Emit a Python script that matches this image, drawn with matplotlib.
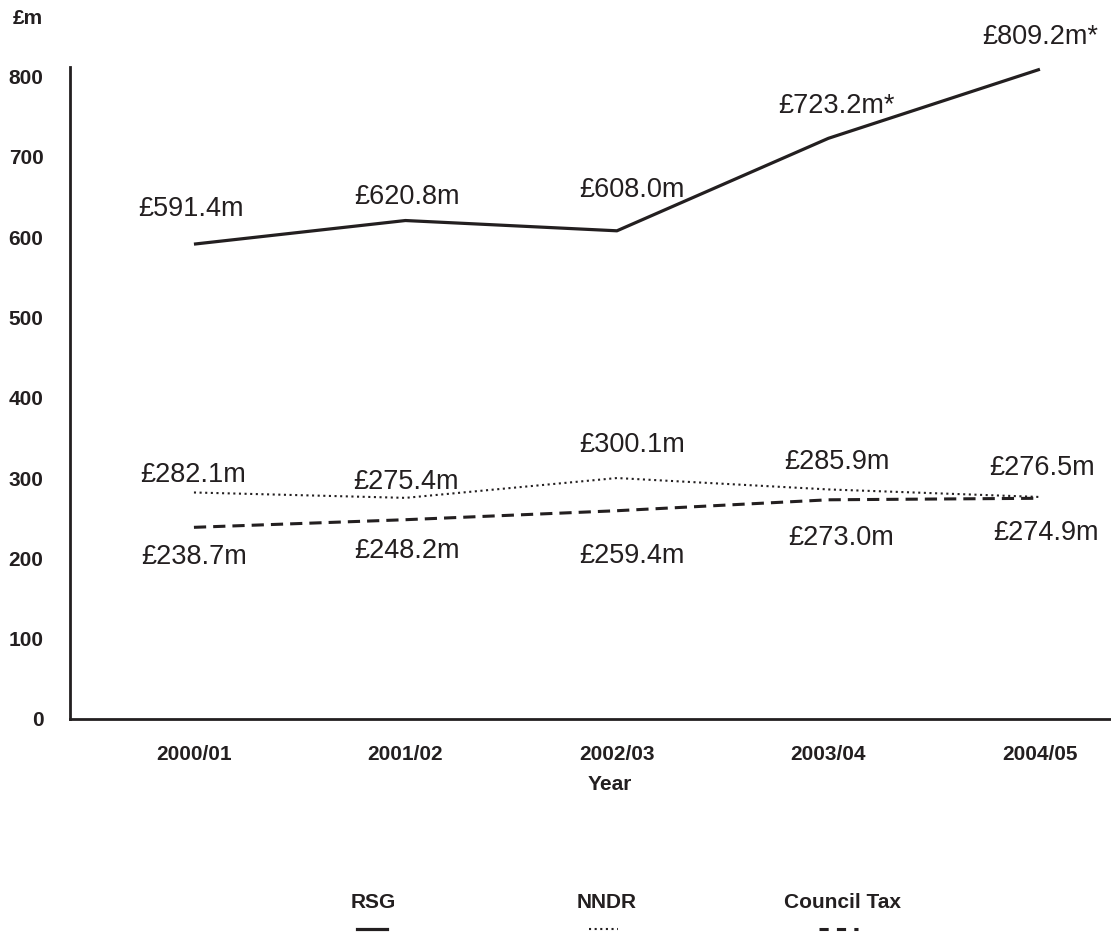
import matplotlib
matplotlib.use("Agg")
import matplotlib.pyplot as plt
from matplotlib.lines import Line2D

plt.rcParams["font.family"] = ["Liberation Sans", "DejaVu Sans"]

INK = "#231f20"

# Funding by source, £m
years = ["2000/01", "2001/02", "2002/03", "2003/04", "2004/05"]
rsg = [591.4, 620.8, 608.0, 723.2, 809.2]
nndr = [282.1, 275.4, 300.1, 285.9, 276.5]
council_tax = [238.7, 248.2, 259.4, 273.0, 274.9]

rsg_labels = ["£591.4m", "£620.8m", "£608.0m", "£723.2m*", "£809.2m*"]
nndr_labels = ["£282.1m", "£275.4m", "£300.1m", "£285.9m", "£276.5m"]
ct_labels = ["£238.7m", "£248.2m", "£259.4m", "£273.0m", "£274.9m"]

# label offsets from each point, in pixels
rsg_off = [(-3, 35), (1.5, 24), (15, 41), (8.5, 32), (0, 32)]
nndr_off = [(-1, 17), (0.5, 16), (15, 33), (8.5, 27), (2, 29)]
ct_off = [(0, -30), (1.5, -31), (15, -45), (12.5, -38), (6, -35)]

fig = plt.figure(figsize=(11.11, 9.35), dpi=100)
ax = fig.add_axes([70 / 1111, 1 - 719 / 935, 1041 / 1111, 652 / 935])

x = list(range(len(years)))
ax.plot(x, rsg, color=INK, lw=2.3, solid_capstyle="butt")
ax.plot(x, nndr, color=INK, lw=1.5, linestyle=(0, (1, 1.7)))
ax.plot(x, council_tax, color=INK, lw=2.2, linestyle=(0, (4, 2.3)))

for vals, labels, offs in [(rsg, rsg_labels, rsg_off),
                           (nndr, nndr_labels, nndr_off),
                           (council_tax, ct_labels, ct_off)]:
    for i, (v, lab, off) in enumerate(zip(vals, labels, offs)):
        ax.annotate(lab, (i, v), xytext=off, textcoords="offset pixels",
                    ha="center", va="center", fontsize=19.5, color=INK)

ax.set_xlim(-0.586, 4.336)
ax.set_ylim(0, 812)
ax.set_yticks(range(0, 801, 100))
ax.set_xticks(x)
ax.set_xticklabels(years)
ax.tick_params(length=0, labelsize=15, colors=INK)
ax.tick_params(axis="y", pad=19)
ax.tick_params(axis="x", pad=19)
for lab in ax.get_xticklabels() + ax.get_yticklabels():
    lab.set_fontweight("bold")

for side in ["top", "right"]:
    ax.spines[side].set_visible(False)
for side in ["left", "bottom"]:
    ax.spines[side].set_linewidth(2.0)
    ax.spines[side].set_color(INK)

fig.text(28 / 1111, 1 - 18 / 935, "£m", ha="center", va="center",
         fontsize=15, fontweight="bold", color=INK)
fig.text(610 / 1111, 1 - 785 / 935, "Year", ha="center", va="center",
         fontsize=15, fontweight="bold", color=INK)

# legend: name above a short line sample
legend_items = [
    ("RSG", 373, (357, 387), dict(lw=2.3)),
    ("NNDR", 607, (589, 618), dict(lw=1.5, linestyle=(0, (1, 1.7)))),
    ("Council Tax", 842, (819, 858), dict(lw=2.2, linestyle=(0, (3, 2.7)))),
]
for name, cx, (x0, x1), style in legend_items:
    fig.text(cx / 1111, 1 - 902 / 935, name, ha="center", va="center",
             fontsize=15, fontweight="bold", color=INK)
    fig.add_artist(Line2D([x0 / 1111, x1 / 1111], [1 - 929 / 935] * 2,
                          color=INK, transform=fig.transFigure, **style))

fig.savefig("out.png", dpi=100)
